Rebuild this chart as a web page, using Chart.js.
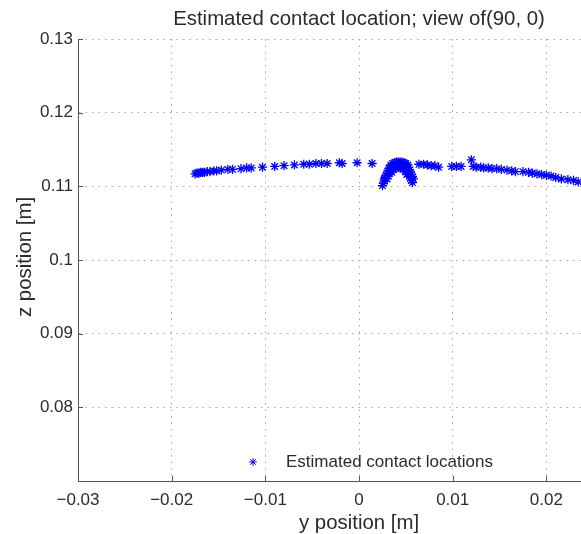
<!DOCTYPE html>
<html>
<head>
<meta charset="utf-8">
<script src="https://cdn.jsdelivr.net/npm/chart.js@4/dist/chart.umd.min.js"></script>
<style>
  html, body { margin: 0; padding: 0; background: #ffffff; }
  #wrap { width: 581px; height: 534px; position: relative; }
</style>
</head>
<body>
<div id="wrap"><canvas id="c" width="581" height="534"></canvas></div>
<script>
// ---- data ----
const leftArcY = [-0.0175,-0.0173,-0.0171,-0.0169,-0.0167,-0.0165,-0.0162,-0.0159,-0.0155,-0.0152,-0.0147,-0.0140,-0.0135,-0.0126,-0.0120,-0.0115,-0.0103,-0.0090,-0.0080,-0.0069,-0.0059,-0.0053,-0.0046,-0.0040,-0.0034,-0.0021,-0.0018,-0.0002,0.0014];
const leftArcZ = [0.1117,0.1118,0.1118,0.1119,0.1119,0.1119,0.1120,0.1120,0.1121,0.1121,0.1122,0.1123,0.1123,0.1124,0.1125,0.1125,0.1126,0.1127,0.1128,0.1129,0.1130,0.1130,0.1131,0.1131,0.1131,0.1132,0.1131,0.1132,0.1131];

const clusterY = [0.0025,0.0026,0.0027,0.0027,0.0028,0.0029,0.0030,0.0031,0.0032,0.0033,0.0030,0.0031,0.0032,0.0033,0.0034,0.0035,
                  0.0034,0.0036,0.0038,0.0040,0.0042,0.0044,0.0046,0.0048,0.0050,0.0052,0.0036,0.0038,0.0040,0.0042,0.0044,0.0046,0.0048,0.0050,0.0037,0.0039,0.0047,0.0049,
                  0.0051,0.0052,0.0053,0.0053,0.0054,0.0054,0.0055,0.0055,0.0056,0.0056,0.0057,0.0057,0.0058,0.0051];
const clusterZ = [0.1101,0.1104,0.1107,0.1110,0.1112,0.1115,0.1118,0.1121,0.1124,0.1126,0.1110,0.1114,0.1117,0.1120,0.1122,0.1119,
                  0.1129,0.1131,0.1132,0.1133,0.1133,0.1133,0.1133,0.1132,0.1131,0.1129,0.1126,0.1127,0.1128,0.1126,0.1125,0.1126,0.1127,0.1126,0.1123,0.1124,0.1123,0.1122,
                  0.1123,0.1120,0.1126,0.1117,0.1122,0.1114,0.1119,0.1111,0.1116,0.1108,0.1113,0.1105,0.1110,0.1116];

const rightArcY = [0.0064,0.0069,0.0073,0.0077,0.0081,0.0085,0.0099,0.0104,0.0109,0.0120,0.0122,0.0125,0.0130,0.0133,0.0138,0.0142,0.0147,0.0152,0.0158,0.0163,0.0167,0.0175,0.0181,0.0185,0.0190,0.0195,0.0200,0.0205,0.0210,0.0216,0.0223,0.0229,0.0234];
const rightArcZ = [0.1130,0.1130,0.1129,0.1128,0.1128,0.1126,0.1127,0.1127,0.1127,0.1136,0.1127,0.1126,0.1126,0.1125,0.1125,0.1124,0.1124,0.1123,0.1122,0.1121,0.1120,0.1120,0.1119,0.1118,0.1117,0.1116,0.1115,0.1114,0.1112,0.1110,0.1109,0.1108,0.1106];

const xTickValues = [-0.03,-0.02,-0.01,0,0.01,0.02];
const xTickLabels = ['\u22120.03','\u22120.02','\u22120.01','0','0.01','0.02'];
const yTickValues = [0.08,0.09,0.10,0.11,0.12,0.13];
const yTickLabels = ['0.08','0.09','0.1','0.11','0.12','0.13'];

const titleText = 'Estimated contact location; view of(90, 0)';
const xTitle = 'y position [m]';
const yTitle = 'z position [m]';
const seriesLabel = 'Estimated contact locations';

// ---- build points ----
const allY = leftArcY.concat(clusterY, rightArcY);
const allZ = leftArcZ.concat(clusterZ, rightArcZ);
const points = allY.map((v, i) => ({ x: v, y: allZ[i] }));

const FONT = '"Liberation Sans", Arial, Helvetica, sans-serif';
const TEXT = '#2b2b2b';
const AXIS = '#555555';
const GRID = '#a8a8a8';
const BLUE = '#0000ff';

const overlay = {
  id: 'overlay',
  afterDraw(chart) {
    const { ctx, chartArea: a, scales: { x, y } } = chart;
    ctx.save();
    // inward tick marks
    ctx.strokeStyle = AXIS;
    ctx.lineWidth = 1;
    xTickValues.forEach(v => {
      const px = Math.round(x.getPixelForValue(v)) + 0.5;
      ctx.beginPath(); ctx.moveTo(px, a.bottom); ctx.lineTo(px, a.bottom - 5); ctx.stroke();
    });
    yTickValues.forEach(v => {
      const py = Math.round(y.getPixelForValue(v)) + 0.5;
      ctx.beginPath(); ctx.moveTo(a.left, py); ctx.lineTo(a.left + 5, py); ctx.stroke();
    });
    // titles
    const cx = x.getPixelForValue(0);
    ctx.fillStyle = TEXT;
    ctx.font = '20.4px ' + FONT;
    ctx.textAlign = 'center';
    ctx.textBaseline = 'alphabetic';
    ctx.fillText(titleText, cx, 25);
    ctx.fillText(xTitle, cx, 529);
    ctx.save();
    ctx.translate(31, (a.top + a.bottom) / 2 - 3);
    ctx.rotate(-Math.PI / 2);
    ctx.fillText(yTitle, 0, 0);
    ctx.restore();
    // legend
    ctx.strokeStyle = BLUE;
    ctx.lineWidth = 1;
    Chart.helpers.drawPoint(ctx, { pointStyle: 'star', rotation: 0, radius: 3.8, borderWidth: 1 }, 253, 462);
    ctx.fillStyle = TEXT;
    ctx.font = '17px ' + FONT;
    ctx.textAlign = 'left';
    ctx.textBaseline = 'middle';
    ctx.fillText(seriesLabel, 286, 462);
    ctx.restore();
  }
};

new Chart(document.getElementById('c'), {
  type: 'scatter',
  data: {
    datasets: [{
      label: seriesLabel,
      data: points,
      pointStyle: 'star',
      pointRadius: 4.6,
      pointBorderWidth: 1.3,
      borderColor: BLUE,
      backgroundColor: BLUE,
      showLine: false
    }]
  },
  options: {
    responsive: false,
    devicePixelRatio: 1,
    animation: false,
    layout: { autoPadding: false, padding: { top: 39, left: 0, right: 0, bottom: 0 } },
    plugins: {
      legend: { display: false },
      title: { display: false },
      tooltip: { enabled: false }
    },
    scales: {
      x: {
        type: 'linear',
        min: -0.03,
        max: 0.0237,
        afterBuildTicks: s => { s.ticks = xTickValues.map(v => ({ value: v })); },
        afterFit: s => { s.height = 53; },
        ticks: {
          callback: (v) => { const i = xTickValues.findIndex(t => Math.abs(t - v) < 1e-9); return i >= 0 ? xTickLabels[i] : ''; },
          font: { family: FONT, size: 17 },
          color: TEXT,
          padding: 9,
          maxRotation: 0,
          autoSkip: false
        },
        grid: { color: GRID, lineWidth: 1, drawTicks: false },
        border: { display: true, color: AXIS, width: 1, dash: [1.5, 5] }
      },
      y: {
        type: 'linear',
        min: 0.07,
        max: 0.13,
        afterBuildTicks: s => { s.ticks = yTickValues.map(v => ({ value: v })); },
        afterFit: s => { s.width = 78; },
        ticks: {
          callback: (v) => { const i = yTickValues.findIndex(t => Math.abs(t - v) < 1e-9); return i >= 0 ? yTickLabels[i] : ''; },
          font: { family: FONT, size: 17 },
          color: TEXT,
          padding: 5,
          autoSkip: false
        },
        grid: { color: GRID, lineWidth: 1, drawTicks: false },
        border: { display: true, color: AXIS, width: 1, dash: [1.5, 5] }
      }
    }
  },
  plugins: [overlay]
});
</script>
</body>
</html>
